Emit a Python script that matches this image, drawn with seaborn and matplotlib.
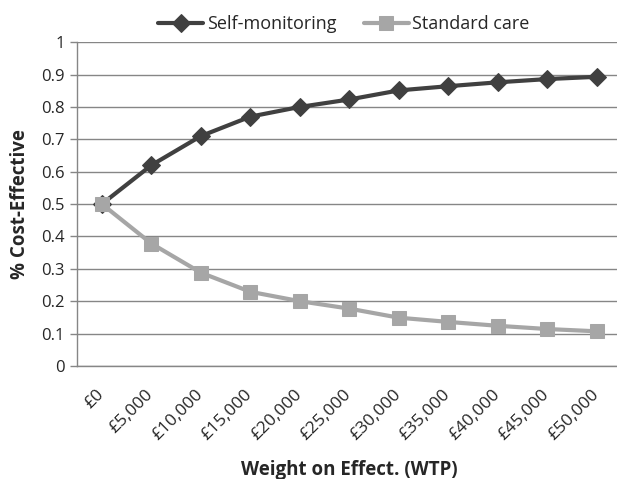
import numpy as np
import pandas as pd
import matplotlib
matplotlib.use('Agg')
import matplotlib.pyplot as plt
import matplotlib.transforms as mtransforms
import seaborn as sns

# values
wtp_labels = ['£0', '£5,000', '£10,000', '£15,000', '£20,000', '£25,000',
              '£30,000', '£35,000', '£40,000', '£45,000', '£50,000']
self_monitoring = [0.50, 0.62, 0.71, 0.77, 0.80, 0.823, 0.851, 0.864, 0.876, 0.886, 0.893]
standard_care = [0.50, 0.378, 0.288, 0.229, 0.200, 0.177, 0.149, 0.136, 0.124, 0.114, 0.107]

df = pd.DataFrame({
    'pos': np.arange(len(wtp_labels)),
    'Self-monitoring': self_monitoring,
    'Standard care': standard_care,
})

sns.set_style('white')
plt.rcParams['font.family'] = ['Open Sans', 'DejaVu Sans']

fig = plt.figure(figsize=(6.17, 4.79), dpi=100)
ax = fig.add_axes([0.125, 0.236, 0.8826, 0.676])

for ycol, col, mk, ms in [('Self-monitoring', '#404040', 'D', 9),
                          ('Standard care', '#a6a6a6', 's', 10)]:
    sns.lineplot(data=df, x='pos', y=ycol, ax=ax, color=col, marker=mk,
                 markersize=ms, markeredgecolor=col, linewidth=3, label=ycol,
                 zorder=3)

ax.set_xlim(-0.5, len(wtp_labels) - 0.5)
ax.set_ylim(0, 1)
ax.set_yticks(np.arange(0, 1.01, 0.1))
ax.set_yticklabels(['0'] + ['%.1f' % v for v in np.arange(0.1, 0.95, 0.1)] + ['1'])
ax.yaxis.grid(True, color='#868686', linewidth=1)
ax.set_axisbelow(True)

ax.set_xticks(df['pos'])
ax.set_xticklabels(wtp_labels, rotation=45, ha='right', rotation_mode='anchor')
ax.set_xticks(np.arange(-0.5, len(wtp_labels)), minor=True)
ax.tick_params(axis='x', which='major', length=0, labelsize=12.5, pad=15)
ax.tick_params(axis='x', which='minor', length=5, color='#868686', width=1)
ax.tick_params(axis='y', length=5, color='#868686', width=1, labelsize=12,
               left=True, pad=4)
# nudge the rotated labels left so their ends sit just right of the category
shift = mtransforms.ScaledTranslation(-6 / 100, 0, fig.dpi_scale_trans)
for lbl in ax.get_xticklabels():
    lbl.set_transform(lbl.get_transform() + shift)

for s in ['top', 'right']:
    ax.spines[s].set_visible(False)
for s in ['left', 'bottom']:
    ax.spines[s].set_color('#868686')
    ax.spines[s].set_linewidth(1)

ax.set_xlabel('Weight on Effect. (WTP)', fontsize=13.5, fontweight='bold', labelpad=12)
ax.set_ylabel('% Cost-Effective', fontsize=13.5, fontweight='bold', labelpad=8)

ax.legend(loc='lower center', bbox_to_anchor=(0.49, 1.0), ncol=2, frameon=False,
          fontsize=13, handlelength=2.5, columnspacing=1.5, handletextpad=0.2,
          borderaxespad=0.1)

fig.savefig('out.png', dpi=100)
